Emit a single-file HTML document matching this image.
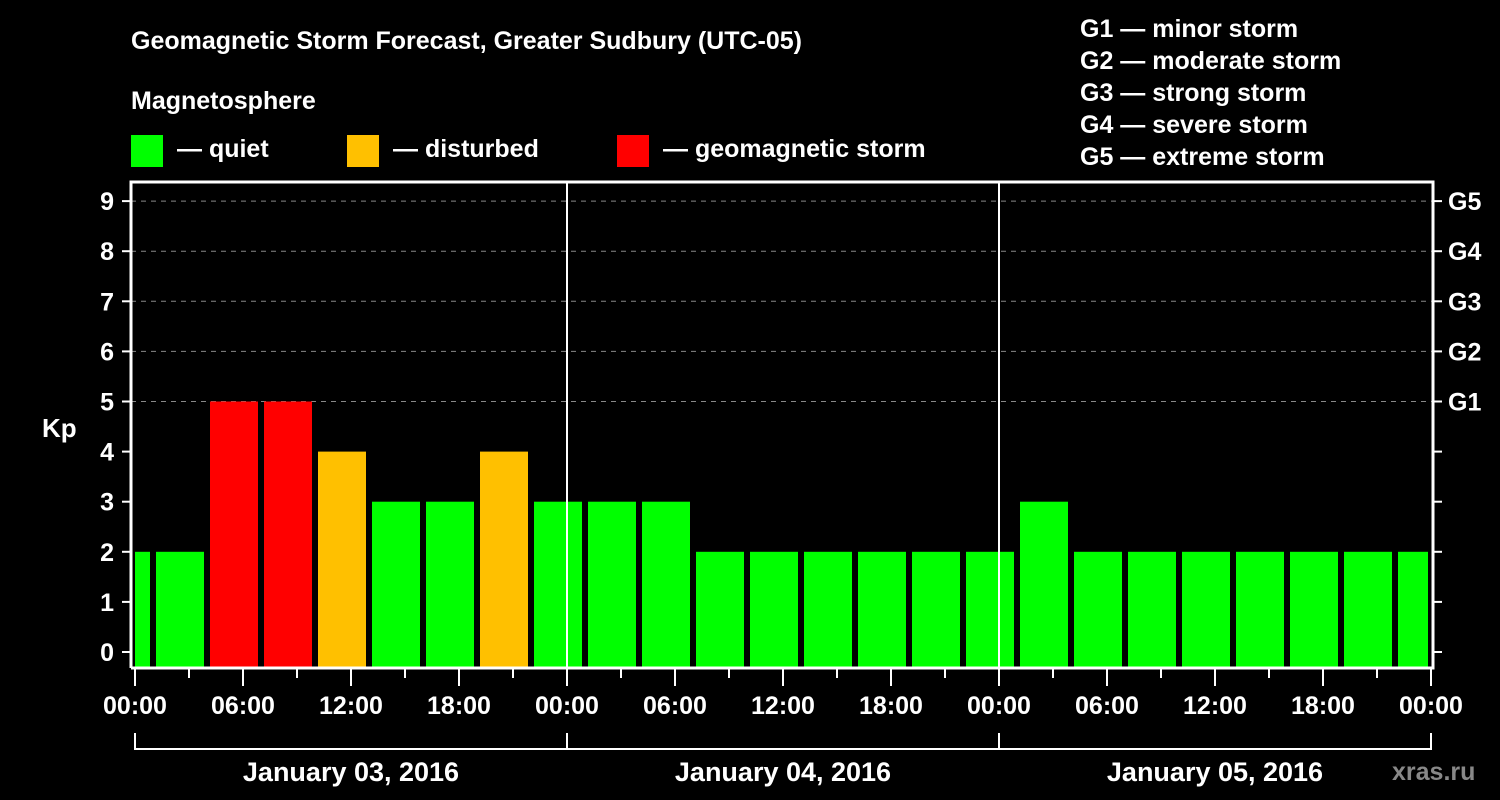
<!DOCTYPE html>
<html><head><meta charset="utf-8"><style>
body{margin:0;background:#000;}
svg{display:block;font-family:"Liberation Sans",Arial,sans-serif;font-weight:bold;fill:#fff;}
</style></head><body>
<svg id="chart" width="1500" height="800" viewBox="0 0 1500 800">
<rect width="1500" height="800" fill="#000"/>
<text x="131" y="49" font-size="25">Geomagnetic Storm Forecast, Greater Sudbury (UTC-05)</text>
<text x="131" y="109" font-size="25">Magnetosphere</text>
<g><rect x="131" y="135" width="32" height="32" fill="#00ff00"/><text x="177" y="157" font-size="25">— quiet</text></g>
<g><rect x="347" y="135" width="32" height="32" fill="#ffc000"/><text x="393" y="157" font-size="25">— disturbed</text></g>
<g><rect x="617" y="135" width="32" height="32" fill="#ff0000"/><text x="663" y="157" font-size="25">— geomagnetic storm</text></g>
<g font-size="25">
<text x="1080" y="37">G1 — minor storm</text>
<text x="1080" y="69">G2 — moderate storm</text>
<text x="1080" y="101">G3 — strong storm</text>
<text x="1080" y="133">G4 — severe storm</text>
<text x="1080" y="165">G5 — extreme storm</text>
</g>
<text x="42" y="437" font-size="26">Kp</text>
<g id="grid"></g><g id="bars"></g><g id="axes"></g>
<text x="1392" y="780" font-size="25" fill="#888" style="fill:#888">xras.ru</text>
</svg>
<script>
const binStartHours=[-2,1,4,7,10,13,16,19,22,25,28,31,34,37,40,43,46,49,52,55,58,61,64,67,70];
const kpValues=[2,2,5,5,4,3,3,4,3,3,3,2,2,2,2,2,2,3,2,2,2,2,2,2,2];
const yTicks=[0,1,2,3,4,5,6,7,8,9];
const gLabels=["G1","G2","G3","G4","G5"];
const xTickLabels=["00:00","06:00","12:00","18:00","00:00","06:00","12:00","18:00","00:00","06:00","12:00","18:00","00:00"];
const dayLabels=["January 03, 2016","January 04, 2016","January 05, 2016"];
const NS="http://www.w3.org/2000/svg";
const L=131,R=1433,T=182,B=668;
const x=h=>135+18*h;
const y=v=>652-50.1*v;
function mk(tag,attrs,parent,txt){const e=document.createElementNS(NS,tag);for(const k in attrs)e.setAttribute(k,attrs[k]);if(txt!==undefined)e.textContent=txt;document.getElementById(parent).appendChild(e);return e;}
// grid
[5,6,7,8,9].forEach(v=>{const g=mk('line',{x1:L,x2:R,y1:y(v),y2:y(v),stroke:'#888','stroke-dasharray':'5,5','stroke-width':1},'grid');

});
// bars
kpValues.forEach((v,i)=>{let x0=x(binStartHours[i])+3,x1=x(binStartHours[i]+3)-3;x0=Math.max(x0,x(0));x1=Math.min(x1,x(72)-3);
const c=v>=5?'#ff0000':(v>=4?'#ffc000':'#00ff00');
const b=mk('rect',{x:x0,y:y(v),width:x1-x0,height:B-y(v),fill:c},'bars');

});
// frame
const fr=mk('path',{d:`M${L},${B}V${T}H${R}V${B}H${L}`,fill:'none',stroke:'#fff','stroke-width':3},'axes');


[1,2].forEach(d=>{const l=mk('line',{x1:x(24*d),x2:x(24*d),y1:T,y2:B,stroke:'#fff','stroke-width':2},'axes');

});
yTicks.forEach(v=>{mk('line',{x1:122,x2:L,y1:y(v),y2:y(v),stroke:'#fff','stroke-width':2},'axes');
mk('line',{x1:R,x2:1442,y1:y(v),y2:y(v),stroke:'#fff','stroke-width':2},'axes');
const t=mk('text',{x:114,y:y(v)+9,'font-size':25,'text-anchor':'end'},'axes',String(v));

});
gLabels.forEach((g,i)=>{const t=mk('text',{x:1448,y:y(5+i)+9,'font-size':25},'axes',g);

});
for(let h=0;h<=72;h+=3){const major=h%6===0;mk('line',{x1:x(h),x2:x(h),y1:B,y2:major?686:678,stroke:'#fff','stroke-width':2},'axes');}
xTickLabels.forEach((s,i)=>{const t=mk('text',{x:x(6*i),y:714,'font-size':25,'text-anchor':'middle'},'axes',s);

});
mk('line',{x1:x(0),x2:x(72),y1:749,y2:749,stroke:'#fff','stroke-width':2},'axes');
for(let d=0;d<=3;d++)mk('line',{x1:x(24*d),x2:x(24*d),y1:733,y2:750,stroke:'#fff','stroke-width':2},'axes');
dayLabels.forEach((s,i)=>{const t=mk('text',{x:x(24*i+12),y:781,'font-size':27,'text-anchor':'middle'},'axes',s);

});
</script>
</body></html>
